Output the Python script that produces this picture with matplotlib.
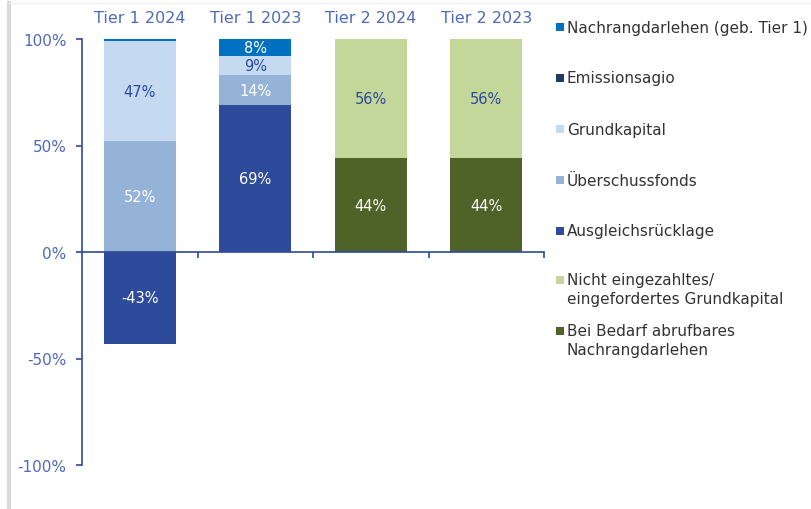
import matplotlib
matplotlib.use("Agg")
import matplotlib.pyplot as plt
from matplotlib.patches import Rectangle
from matplotlib.lines import Line2D
import numpy as np

categories = ["Tier 1 2024", "Tier 1 2023", "Tier 2 2024", "Tier 2 2023"]
nachrang = [1.5, 8, 0, 0]
emissionsagio = [0, 0, 0, 0]
grundkapital = [47, 9, 0, 0]
ueberschuss = [52, 14, 0, 0]
ausgleich = [-43, 69, 0, 0]
nicht_eingezahlt = [0, 0, 56, 56]
bei_bedarf = [0, 0, 44, 44]

yticks = [-100, -50, 0, 50, 100]
ytick_labels = ["-100%", "-50%", "0%", "50%", "100%"]

# stacking order bottom -> top (positives), with label colour
series = [
    ("Ausgleichsrücklage", ausgleich, "#2E4A9B", "white"),
    ("Überschussfonds", ueberschuss, "#95B3D7", "white"),
    ("Grundkapital", grundkapital, "#C5D9F1", "#2E4A9B"),
    ("Emissionsagio", emissionsagio, "#1F3864", "white"),
    ("Nachrangdarlehen (geb. Tier 1)", nachrang, "#0070C0", "white"),
    ("Bei Bedarf abrufbares\nNachrangdarlehen", bei_bedarf, "#4F6228", "white"),
    ("Nicht eingezahltes/\neingefordertes Grundkapital", nicht_eingezahlt, "#C4D79B", "#2E4A9B"),
]
legend_order = [
    "Nachrangdarlehen (geb. Tier 1)", "Emissionsagio", "Grundkapital",
    "Überschussfonds", "Ausgleichsrücklage",
    "Nicht eingezahltes/\neingefordertes Grundkapital",
    "Bei Bedarf abrufbares\nNachrangdarlehen",
]

axis_col = "#2E4A9B"
tick_col = "#4F6BB8"

fig = plt.figure(figsize=(8.11, 5.10), dpi=100)
ax = fig.add_axes([82/811, 1-466/510, (544-82)/811, (466-40)/510])

x = np.arange(len(categories))
width = 0.62
pos_base = np.zeros(len(categories))
neg_base = np.zeros(len(categories))
colors = {}
for name, vals, col, tcol in series:
    vals = np.array(vals, dtype=float)
    colors[name] = col
    bottoms = np.where(vals >= 0, pos_base, neg_base)
    ax.bar(x, vals, width, bottom=bottoms, color=col, edgecolor="none")
    for xi, v, b in zip(x, vals, bottoms):
        if abs(v) >= 5:
            ax.text(xi, b + v/2, f"{v:.0f}%", ha="center", va="center",
                    color=tcol, fontsize=10.5)
    pos_base += np.where(vals >= 0, vals, 0)
    neg_base += np.where(vals < 0, vals, 0)

ax.set_xlim(-0.5, 3.5)
ax.set_ylim(-100, 100)
ax.set_yticks(yticks)
ax.set_yticklabels(ytick_labels)
ax.set_xticks(x)
ax.set_xticklabels(categories)
ax.set_xticks([0.5, 1.5, 2.5, 3.5], minor=True)

for s in ["top", "right"]:
    ax.spines[s].set_visible(False)
ax.spines["bottom"].set_position(("data", 0))
ax.spines["bottom"].set_color(axis_col)
ax.spines["left"].set_color(axis_col)
ax.spines["bottom"].set_linewidth(1.2)
ax.spines["left"].set_linewidth(1.2)

ax.tick_params(axis="x", which="major", length=0, labeltop=True, labelbottom=False,
               top=False, bottom=False, labelsize=11.5, labelcolor=tick_col, pad=10)
ax.tick_params(axis="x", which="minor", length=4, width=1.2, color=axis_col,
               bottom=True, top=False, direction="out")
ax.tick_params(axis="y", length=4, width=1.2, color=axis_col, labelcolor=tick_col,
               labelsize=11, pad=7)

# legend drawn manually
legend_y = {
    "Nachrangdarlehen (geb. Tier 1)": 28,
    "Emissionsagio": 79,
    "Grundkapital": 130,
    "Überschussfonds": 181,
    "Ausgleichsrücklage": 232,
    "Nicht eingezahltes/\neingefordertes Grundkapital": 281,
    "Bei Bedarf abrufbares\nNachrangdarlehen": 332,
}
for name in legend_order:
    ypx = legend_y[name]
    fig.patches.append(Rectangle((556/811, 1-(ypx+4)/510), 8/811, 8/510,
                                 transform=fig.transFigure, facecolor=colors[name],
                                 edgecolor="none"))
    multi = "\n" in name
    fig.text(567/811, 1-(ypx-8)/510 if multi else 1-ypx/510, name, ha="left",
             va="top" if multi else "center",
             fontsize=11, color="#333333", linespacing=1.3,
             transform=fig.transFigure)

# screenshot frame
fig.add_artist(Line2D([8.5/811, 8.5/811], [0, 1-4/510], transform=fig.transFigure,
                      color="#D9D9D9", linewidth=3))
fig.add_artist(Line2D([8.5/811, 1], [1-4/510, 1-4/510], transform=fig.transFigure,
                      color="#EEEEEE", linewidth=1))

fig.savefig("out.png", dpi=100)
